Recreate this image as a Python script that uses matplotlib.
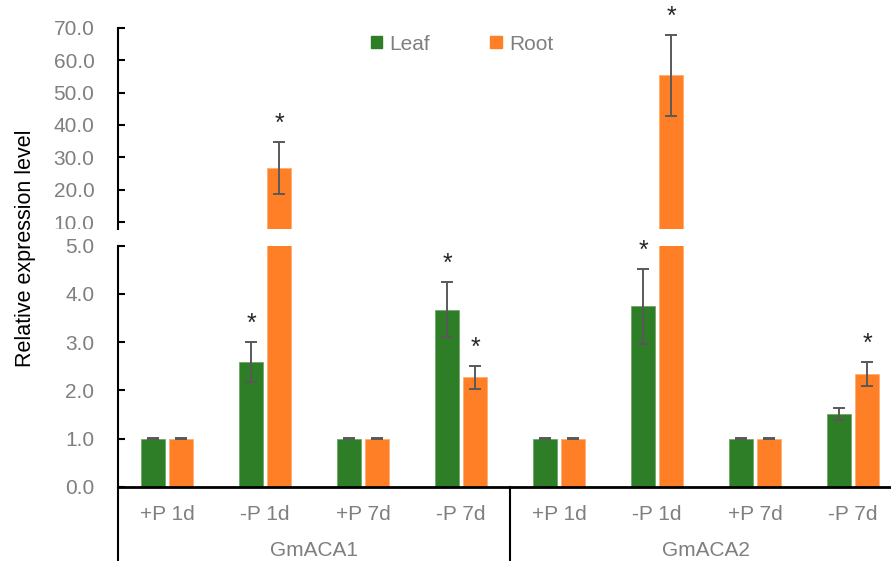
import numpy as np
import matplotlib
matplotlib.use("Agg")
import matplotlib.pyplot as plt
from matplotlib.patches import Patch
from matplotlib.transforms import Bbox, TransformedBbox

plt.rcParams["font.family"] = ["Liberation Sans", "DejaVu Sans"]

# ── Data ───────────────────────────────────────────────
categories = ["+P 1d", "-P 1d", "+P 7d", "-P 7d", "+P 1d", "-P 1d", "+P 7d", "-P 7d"]
genes = ["GmACA1", "GmACA2"]

leaf_mean = [1.00, 2.59, 1.00, 3.67, 1.00, 3.74, 1.00, 1.51]
leaf_err = [0.01, 0.42, 0.01, 0.57, 0.01, 0.78, 0.01, 0.13]
root_mean = [1.00, 26.8, 1.00, 2.27, 1.00, 55.3, 1.00, 2.34]
root_err = [0.01, 8.1, 0.01, 0.24, 0.01, 12.4, 0.01, 0.25]

leaf_sig = [False, True, False, True, False, True, False, False]
root_sig = [False, True, False, True, False, True, False, True]

# ── Style ──────────────────────────────────────────────
GREEN = "#2E7D27"
ORANGE = "#FF7F27"
GRAY = "#7F7F7F"
ERR = "#595959"
FS = 15

W, H = 891, 561
fig = plt.figure(figsize=(W / 100, H / 100), dpi=100)

left = 118 / W
width = 784 / W
ax_top = fig.add_axes([left, 1 - 229 / H, width, (229 - 27.7) / H])
ax_bot = fig.add_axes([left, 1 - 486.7 / H, width, (486.7 - 245.7) / H])

x = np.arange(len(categories))
off = 0.143
bw = 0.235


def draw(ax):
    ax.bar(x - off, leaf_mean, bw, color=GREEN, edgecolor="#6FA86A", linewidth=0.6, zorder=2)
    ax.bar(x + off, root_mean, bw, color=ORANGE, edgecolor="#FFAE72", linewidth=0.6, zorder=2)
    ax.errorbar(x - off, leaf_mean, yerr=leaf_err, fmt="none", ecolor=ERR,
                elinewidth=1.4, capsize=4.3, capthick=1.4, zorder=3)
    ax.errorbar(x + off, root_mean, yerr=root_err, fmt="none", ecolor=ERR,
                elinewidth=1.4, capsize=4.3, capthick=1.4, zorder=3)
    ax.set_xlim(-0.5, len(categories) - 0.5)
    for s in ["top", "right"]:
        ax.spines[s].set_visible(False)
    ax.spines["left"].set_linewidth(1.5)
    ax.tick_params(axis="y", direction="in", length=5, width=1.5,
                   labelsize=FS, labelcolor=GRAY, pad=17)


draw(ax_top)
draw(ax_bot)

# top panel
ax_top.set_ylim(7.93, 70)
ax_top.set_yticks(np.arange(10, 71, 10))
ax_top.set_yticklabels([f"{v:.1f}" for v in np.arange(10, 71, 10)])
ax_top.spines["bottom"].set_visible(False)
ax_top.set_xticks([])

# bottom panel
ax_bot.set_ylim(0, 5)
ax_bot.set_yticks(np.arange(0, 5.1, 1))
ax_bot.set_yticklabels([f"{v:.1f}" for v in np.arange(0, 5.1, 1)])
ax_bot.spines["bottom"].set_linewidth(2)
ax_bot.set_xticks(x)
ax_bot.set_xticklabels(categories)
ax_bot.tick_params(axis="x", length=0, labelsize=FS, labelcolor=GRAY, pad=13)

# clip the 10.0 label at the panel edge like the source
clip = TransformedBbox(Bbox([[0, 1 - 229 / H], [1, 1]]), fig.transFigure)
for t in ax_top.yaxis.get_major_ticks():
    t.label1.set_clip_box(clip)
    t.label1.set_clip_on(True)

# group labels and separators
trans = ax_bot.get_xaxis_transform()
for gx in [-0.5, 3.5, 7.5]:
    ax_bot.plot([gx, gx], [0, -0.4], color="black", lw=1.5, transform=trans, clip_on=False)
for i, g in enumerate(genes):
    ax_bot.text(1.5 + 4 * i, -0.263, g, transform=trans, ha="center", va="center",
                fontsize=FS, color=GRAY)

# significance stars
for xi, m, e, s in zip(x - off, leaf_mean, leaf_err, leaf_sig):
    if s:
        ax = ax_top if m > 5 else ax_bot
        ax.annotate("*", (xi, m + e), xytext=(0, 8), textcoords="offset points",
                    ha="center", va="baseline", fontsize=18, color="#262626")
for xi, m, e, s in zip(x + off, root_mean, root_err, root_sig):
    if s:
        ax = ax_top if m > 5 else ax_bot
        ax.annotate("*", (xi, m + e), xytext=(0, 8), textcoords="offset points",
                    ha="center", va="baseline", fontsize=18, color="#262626",
                    annotation_clip=False)

fig.text(26 / W, 1 - 248 / H, "Relative expression level", rotation=90,
         ha="center", va="center", fontsize=FS + 0.5, color="black")

handles = [Patch(color=GREEN, label="Leaf"), Patch(color=ORANGE, label="Root")]
fig.legend(handles=handles, loc="center", bbox_to_anchor=(462 / W, 1 - 44 / H),
           ncol=2, frameon=False, fontsize=FS, labelcolor=GRAY,
           handlelength=0.55, handleheight=0.55, handletextpad=0.35, columnspacing=2.9)

fig.savefig("out.png", dpi=100)
